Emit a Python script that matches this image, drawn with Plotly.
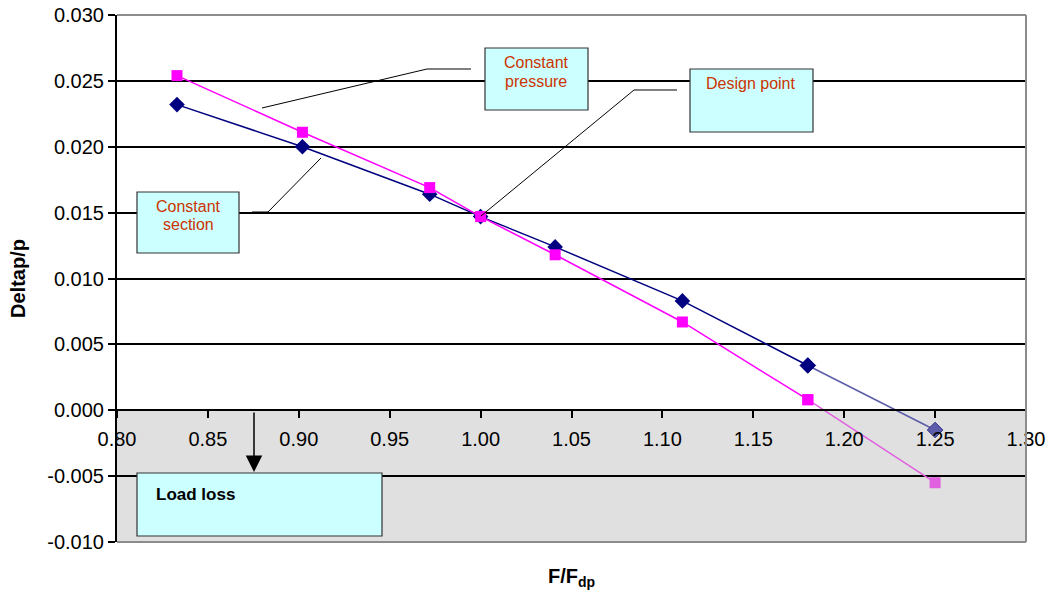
import plotly.graph_objects as go

# ---- data ----
ratio = [0.833, 0.902, 0.972, 1.000, 1.041, 1.111, 1.180, 1.250]
const_section = [0.0232, 0.0200, 0.0164, 0.0147, 0.0124, 0.0083, 0.0034, -0.0015]
const_pressure = [0.0254, 0.0211, 0.0169, 0.0147, 0.0118, 0.0067, 0.0008, -0.0055]
y_ticks = [-0.010, -0.005, 0.000, 0.005, 0.010, 0.015, 0.020, 0.025, 0.030]
y_labels = ["-0.010", "-0.005", "0.000", "0.005", "0.010", "0.015", "0.020", "0.025", "0.030"]
x_ticks = [0.80, 0.85, 0.90, 0.95, 1.00, 1.05, 1.10, 1.15, 1.20, 1.25, 1.30]
x_labels = ["0.80", "0.85", "0.90", "0.95", "1.00", "1.05", "1.10", "1.15", "1.20", "1.25", "1.30"]

W, H = 1053, 591
L, R, T, B = 117, 27, 15, 49
PW, PH = W - L - R, H - T - B


def px(x):
    return (x - L) / PW


def py(y):
    return (H - B - y) / PH


NAVY = "#000080"
NAVY_L = "#5c5caa"
MAG = "#ff00ff"
MAG_L = "#e060e0"
FONT = "Liberation Sans, Arial, sans-serif"
TXT = "#cc3300"

fig = go.Figure()

fig.add_trace(go.Scatter(x=ratio[:7], y=const_section[:7], mode="lines+markers",
                         line=dict(color=NAVY, width=1.5),
                         marker=dict(symbol="diamond", size=12, color=NAVY),
                         showlegend=False, name="Constant section"))
fig.add_trace(go.Scatter(x=ratio[6:], y=const_section[6:], mode="lines+markers",
                         line=dict(color=NAVY_L, width=1.5),
                         marker=dict(symbol="diamond", size=12, color=[NAVY, NAVY_L],
                                     line=dict(color=[NAVY, "#34348a"], width=1)),
                         showlegend=False, name="Constant section"))
fig.add_trace(go.Scatter(x=ratio[:7], y=const_pressure[:7], mode="lines+markers",
                         line=dict(color=MAG, width=1.5),
                         marker=dict(symbol="square", size=11, color=MAG),
                         showlegend=False, name="Constant pressure"))
fig.add_trace(go.Scatter(x=ratio[6:], y=const_pressure[6:], mode="lines+markers",
                         line=dict(color=MAG_L, width=1.5),
                         marker=dict(symbol="square", size=11, color=[MAG, MAG_L]),
                         showlegend=False, name="Constant pressure"))

shapes = []
shapes.append(dict(type="rect", xref="paper", yref="y", x0=0, x1=1, y0=-0.010, y1=0.0,
                   fillcolor="#e0e0e0", line=dict(width=0), layer="below"))
for (x0, y0, x1, y1) in [(0, 1, 1, 1), (1, 0, 1, 1), (0, 0, 1, 0)]:
    shapes.append(dict(type="line", xref="paper", yref="paper", x0=x0, y0=y0, x1=x1, y1=y1,
                       line=dict(color="#8c8c8c", width=2), layer="above"))


def box(x0, y0, x1, y1):
    shapes.append(dict(type="rect", xref="paper", yref="paper",
                       x0=px(x0), x1=px(x1), y0=py(y1), y1=py(y0),
                       fillcolor="#ccffff", line=dict(color="#333333", width=1.2),
                       layer="above"))


def path(points):
    d = "M " + " L ".join(f"{px(a):.5f},{py(b):.5f}" for a, b in points)
    shapes.append(dict(type="path", xref="paper", yref="paper", path=d,
                       line=dict(color="black", width=1), layer="above"))


path([(262, 108), (427, 69), (471, 69)])
path([(481, 216), (634, 90), (677, 90)])
path([(252, 212), (268, 212), (321, 158)])

box(485, 48, 588, 110)
box(690, 69, 813, 132)
box(137, 192, 239, 253)
box(137, 473, 382, 536)

annotations = []


def text(x, y, s, color=TXT, size=16, bold=False, xanchor="center"):
    annotations.append(dict(xref="paper", yref="paper", x=px(x), y=py(y), text=s,
                            showarrow=False, xanchor=xanchor, yanchor="middle",
                            align="center",
                            font=dict(family=FONT, size=size, color=color,
                                      weight="bold" if bold else "normal")))


text(536, 63, "Constant")
text(536, 81, "pressure")
text(751, 83, "Design point")
text(188, 206, "Constant")
text(188, 224, "section")
text(154, 494, "Load loss", color="black", size=17, bold=True, xanchor="left")

annotations.append(dict(xref="paper", yref="paper", x=px(254), y=py(472), ax=0, ay=-61,
                        axref="pixel", ayref="pixel", text="", showarrow=True,
                        arrowhead=2, arrowsize=2.2, arrowwidth=1.5, arrowcolor="black"))

annotations.append(dict(xref="paper", yref="paper", x=0.5, y=py(577), text="F/F<sub>dp</sub>",
                        showarrow=False, xanchor="center", yanchor="middle",
                        font=dict(family=FONT, size=20, color="black", weight="bold")))

fig.update_layout(
    width=W, height=H,
    margin=dict(l=L, r=R, t=T, b=B),
    paper_bgcolor="white", plot_bgcolor="white",
    shapes=shapes, annotations=annotations,
    font=dict(family=FONT, size=20, color="black"),
    xaxis=dict(range=[0.80, 1.30], tickvals=x_ticks, ticktext=x_labels,
               anchor="free", position=0.25, showline=True, linecolor="black", linewidth=2,
               ticks="outside", ticklen=7, tickwidth=1.5, tickcolor="black",
               showgrid=False, zeroline=False, ticklabelstandoff=4, automargin=False,
               tickfont=dict(family=FONT, size=20, color="black")),
    yaxis=dict(range=[-0.010, 0.030], tickvals=y_ticks, ticktext=y_labels,
               showline=True, linecolor="black", linewidth=2, automargin=False,
               ticks="outside", ticklen=7, tickwidth=1.5, tickcolor="black",
               showgrid=True, gridcolor="black", gridwidth=1.5, zeroline=False,
               tickfont=dict(family=FONT, size=20, color="black"),
               title=dict(text="Deltap/p", standoff=16,
                          font=dict(family=FONT, size=20, color="black", weight="bold"))),
)

fig.write_html("out.html", config={"displayModeBar": False},
               post_script="document.body.style.margin='0';document.body.style.overflow='hidden';")
